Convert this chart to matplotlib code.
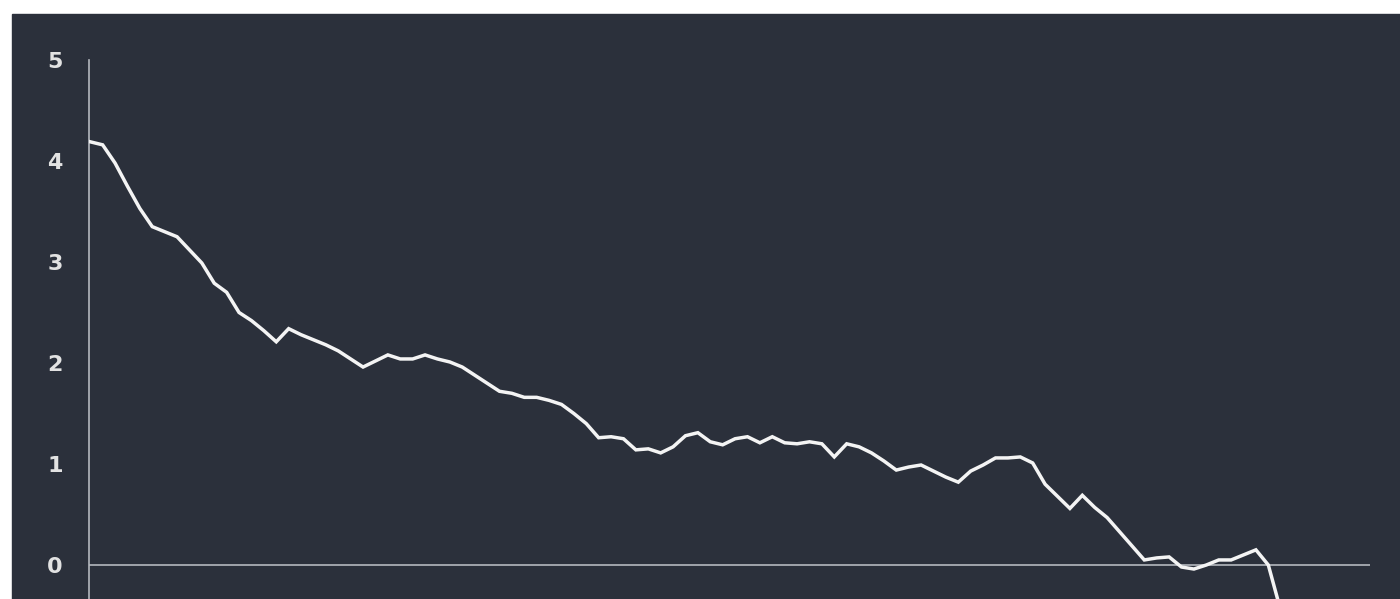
import matplotlib
matplotlib.use('Agg')
import matplotlib.pyplot as plt
from matplotlib.patches import Rectangle
import numpy as np

# values, one per step
values = [4.19, 4.16, 3.98, 3.75, 3.53, 3.35, 3.30, 3.25, 3.12, 2.99,
          2.79, 2.70, 2.50, 2.42, 2.32, 2.21, 2.34, 2.28, 2.23, 2.18,
          2.12, 2.04, 1.96, 2.02, 2.08, 2.04, 2.04, 2.08, 2.04, 2.01,
          1.96, 1.88, 1.80, 1.72, 1.70, 1.66, 1.66, 1.63, 1.59, 1.50,
          1.40, 1.26, 1.27, 1.25, 1.14, 1.15, 1.11, 1.17, 1.28, 1.31,
          1.22, 1.19, 1.25, 1.27, 1.21, 1.27, 1.21, 1.20, 1.22, 1.20,
          1.07, 1.20, 1.17, 1.11, 1.03, 0.94, 0.97, 0.99, 0.93, 0.87,
          0.82, 0.93, 0.99, 1.06, 1.06, 1.07, 1.01, 0.80, 0.68, 0.56,
          0.69, 0.57, 0.47, 0.33, 0.19, 0.05, 0.07, 0.08, -0.02, -0.04,
          0.00, 0.05, 0.05, 0.10, 0.15, 0.00, -0.45]
yticks = [0, 1, 2, 3, 4, 5]

bg = '#2b303b'
axis_col = '#b4b8be'
text_col = '#e2e2e2'

W, H = 1400, 599
fig = plt.figure(figsize=(W / 100, H / 100), dpi=100, facecolor='white')
fig.patches.append(Rectangle((12 / W, 0), 1 - 12 / W, (H - 14) / H,
                             transform=fig.transFigure, color=bg, zorder=-10))

left, right, top = 89 / W, 1370 / W, (H - 60) / H
ax = fig.add_axes([left, 0, right - left, top])
ax.patch.set_alpha(0)

x = np.arange(len(values))
ax.plot(x, values, color='#f4f4f4', lw=2.5, solid_joinstyle='miter', zorder=3)
ax.axhline(0, color=axis_col, lw=1.2, zorder=2)

ax.set_xlim(-0.1, 103.2)
ax.set_ylim(-(H - 565) / 101, 5)

for s in ['top', 'right', 'bottom']:
    ax.spines[s].set_visible(False)
ax.spines['left'].set_color(axis_col)
ax.spines['left'].set_linewidth(1.2)

ax.set_xticks([])
ax.set_yticks(yticks)
ax.set_yticklabels([str(t) for t in yticks])
ax.tick_params(axis='y', length=0, pad=19, labelsize=16, labelcolor=text_col)
for lbl in ax.get_yticklabels():
    lbl.set_fontfamily('DejaVu Sans')
    lbl.set_fontweight('bold')

fig.savefig('out.png', dpi=100, facecolor=fig.get_facecolor())
